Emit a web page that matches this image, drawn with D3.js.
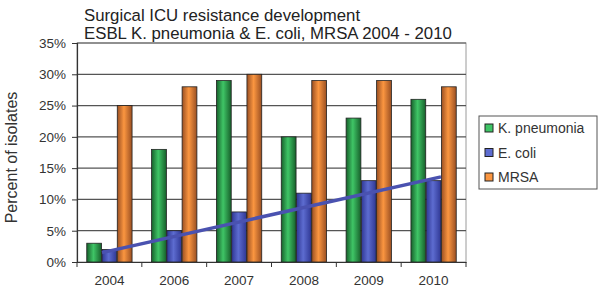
<!DOCTYPE html>
<html>
<head>
<meta charset="utf-8">
<script src="https://cdn.jsdelivr.net/npm/d3@7"></script>
<style>
  body { margin: 0; background: #fff; }
  svg { display: block; font-family: "Liberation Sans", Arial, sans-serif; }
</style>
</head>
<body>
<svg id="chart" width="600" height="291"></svg>
<script>
const years = ['2004', '2006', '2007', '2008', '2009', '2010'];
const seriesNames = ['K. pneumonia', 'E. coli', 'MRSA'];
const kPneumonia = [3, 18, 29, 20, 23, 26];
const eColi = [2, 5, 8, 11, 13, 13];
const mrsa = [25, 28, 30, 29, 29, 28];
const yTicks = [0, 5, 10, 15, 20, 25, 30, 35];
const trend = [1.5, 13.6]; // hand drawn line over E. coli, 2004 -> 2010

const series = [kPneumonia, eColi, mrsa];
const colors = [
  { id: 'gGreen', edge: '#17602b', mid: '#3fc566' },
  { id: 'gBlue', edge: '#2f3794', mid: '#5d6cd0' },
  { id: 'gOrange', edge: '#9a4f22', mid: '#fb9640' }
];

const svg = d3.select('#chart');
const margin = { left: 77, right: 134, top: 43, bottom: 29 };
const width = 600, height = 291;

const x = d3.scaleBand().domain(years).range([margin.left, width - margin.right]).paddingInner(0).paddingOuter(0);
const xs = d3.scaleBand().domain(d3.range(series.length)).range([0, x.bandwidth()]).paddingOuter(0.64).paddingInner(0.03);
const y = d3.scaleLinear().domain([0, 35]).range([height - margin.bottom, margin.top]);

// gradients
const defs = svg.append('defs');
colors.forEach(c => {
  const g = defs.append('linearGradient').attr('id', c.id).attr('x1', 0).attr('x2', 1).attr('y1', 0).attr('y2', 0);
  g.append('stop').attr('offset', '0%').attr('stop-color', c.edge);
  g.append('stop').attr('offset', '45%').attr('stop-color', c.mid);
  g.append('stop').attr('offset', '100%').attr('stop-color', c.edge);
});

// title
svg.append('text').attr('x', 84).attr('y', 21).attr('font-size', 16.8).attr('fill', '#222')
  .text('Surgical ICU resistance development');
svg.append('text').attr('x', 84).attr('y', 39).attr('font-size', 16.8).attr('fill', '#222')
  .text('ESBL K. pneumonia & E. coli, MRSA 2004 - 2010');

// plot border
svg.append('rect')
  .attr('x', margin.left).attr('y', y(35))
  .attr('width', width - margin.right - margin.left).attr('height', y(0) - y(35))
  .attr('fill', 'none').attr('stroke', '#9a9a9a');

// grid
svg.append('g').selectAll('line').data(yTicks.slice(1)).enter().append('line')
  .attr('x1', margin.left).attr('x2', width - margin.right)
  .attr('y1', d => y(d)).attr('y2', d => y(d))
  .attr('stroke', '#555').attr('stroke-width', 1.2);

// bars
const groups = svg.append('g').selectAll('g').data(years).enter().append('g')
  .attr('transform', d => `translate(${x(d)},0)`);

groups.selectAll('rect').data((d, i) => series.map((s, j) => ({ j: j, v: s[i] }))).enter().append('rect')
  .attr('x', d => xs(d.j))
  .attr('width', xs.bandwidth())
  .attr('y', d => y(d.v))
  .attr('height', d => y(0) - y(d.v))
  .attr('fill', d => `url(#${colors[d.j].id})`)
  .attr('stroke', '#222').attr('stroke-width', 0.8);

// trend line
svg.append('line')
  .attr('x1', x(years[0]) + xs(1)).attr('y1', y(trend[0]))
  .attr('x2', x(years[years.length - 1]) + xs(1) + xs.bandwidth()).attr('y2', y(trend[1]))
  .attr('stroke', '#4a52b0').attr('stroke-width', 3.5);

// y axis
const yAxis = svg.append('g').attr('transform', `translate(${margin.left},0)`)
  .call(d3.axisLeft(y).tickValues(yTicks).tickFormat(d => d + '%').tickSize(5).tickPadding(6));
yAxis.select('.domain').attr('stroke', '#333').attr('stroke-width', 1.2);
yAxis.selectAll('.tick line').attr('stroke', '#333');
yAxis.selectAll('text').attr('font-size', 13.5).attr('fill', '#333').attr('font-family', '"Liberation Sans", Arial, sans-serif');

// x axis
const xAxis = svg.append('g').attr('transform', `translate(0,${y(0)})`)
  .call(d3.axisBottom(x).tickSize(0).tickPadding(13));
xAxis.select('.domain').attr('stroke', '#333').attr('stroke-width', 1.2);
xAxis.selectAll('text').attr('font-size', 13.5).attr('fill', '#333').attr('font-family', '"Liberation Sans", Arial, sans-serif');
svg.append('g').selectAll('line').data(years.concat('end')).enter().append('line')
  .attr('x1', (d, i) => i < years.length ? x(d) : x(years[years.length - 1]) + x.bandwidth())
  .attr('x2', (d, i) => i < years.length ? x(d) : x(years[years.length - 1]) + x.bandwidth())
  .attr('y1', y(0)).attr('y2', y(0) + 5)
  .attr('stroke', '#333');

// y label
svg.append('text')
  .attr('transform', `translate(17,${(y(0) + y(35)) / 2 + 5}) rotate(-90)`)
  .attr('text-anchor', 'middle').attr('font-size', 16).attr('fill', '#333')
  .text('Percent of isolates');

// legend
const legend = svg.append('g').attr('transform', 'translate(479,116)');
legend.append('rect').attr('width', 118).attr('height', 73)
  .attr('fill', '#fff').attr('stroke', '#555');
const li = legend.selectAll('g').data(seriesNames).enter().append('g')
  .attr('transform', (d, i) => `translate(6,${12 + i * 24.5})`);
li.append('rect').attr('x', 0).attr('y', -4).attr('width', 8).attr('height', 8)
  .attr('fill', (d, i) => colors[i].mid).attr('stroke', '#222');
li.append('text').attr('x', 13).attr('y', 5).attr('font-size', 14).attr('fill', '#333')
  .text(d => d);
</script>
</body>
</html>
